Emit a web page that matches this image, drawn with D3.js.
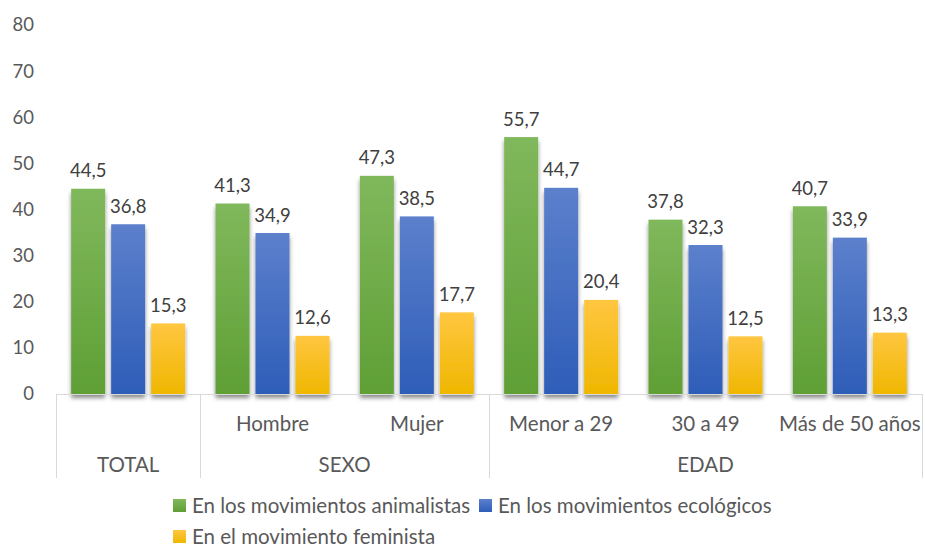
<!DOCTYPE html>
<html>
<head>
<meta charset="utf-8">
<script src="https://cdn.jsdelivr.net/npm/d3@7"></script>
<style>
  html, body { margin: 0; padding: 0; background: #fff; }
  svg { display: block; font-family: Lato, "Open Sans", sans-serif; }
</style>
</head>
<body>
<svg id="chart" width="925" height="550"></svg>
<script>
// Categories (inner label and outer group)
const categories = ["", "Hombre", "Mujer", "Menor a 29", "30 a 49", "Más de 50 años"];
const groups = [
  { name: "TOTAL", from: 0, to: 0 },
  { name: "SEXO", from: 1, to: 2 },
  { name: "EDAD", from: 3, to: 5 }
];
const seriesNames = ["En los movimientos animalistas", "En los movimientos ecológicos", "En el movimiento feminista"];
const animalistas = [44.5, 41.3, 47.3, 55.7, 37.8, 40.7];
const ecologicos  = [36.8, 34.9, 38.5, 44.7, 32.3, 33.9];
const feminista   = [15.3, 12.6, 17.7, 20.4, 12.5, 13.3];
const yTicks = [0, 10, 20, 30, 40, 50, 60, 70, 80];

const seriesValues = [animalistas, ecologicos, feminista];
const colors = [
  { top: "#80b85c", bottom: "#5f9f35" },
  { top: "#5c80cc", bottom: "#2e5db8" },
  { top: "#ffc641", bottom: "#efb700" }
];

const svg = d3.select("#chart");
const plotLeft = 56, plotRight = 922, plotTop = 25, plotBottom = 394, axisBottom = 478;
const numSize = "18.5px", textSize = "20.5px";

const y = d3.scaleLinear().domain([0, 80]).range([plotBottom, plotTop]);
const x0 = d3.scaleBand().domain(d3.range(categories.length)).range([plotLeft, plotRight]).padding(0);
const groupW = 3 * 34 + 2 * 6;
const pad = (x0.bandwidth() - groupW) / 2;
const x1 = d3.scaleBand().domain(d3.range(3)).range([pad, pad + groupW]).paddingInner(0.15).paddingOuter(0);

const defs = svg.append("defs");
colors.forEach((c, i) => {
  const g = defs.append("linearGradient").attr("id", "grad" + i)
    .attr("x1", 0).attr("y1", 0).attr("x2", 0).attr("y2", 1);
  g.append("stop").attr("offset", "0%").attr("stop-color", c.top);
  g.append("stop").attr("offset", "100%").attr("stop-color", c.bottom);
});
const f = defs.append("filter").attr("id", "shadow")
  .attr("x", "-30%").attr("y", "-10%").attr("width", "160%").attr("height", "130%");
f.append("feDropShadow").attr("dx", 0).attr("dy", 4).attr("stdDeviation", 2)
  .attr("flood-color", "#000").attr("flood-opacity", 0.45);

// Y axis labels
const yAxis = d3.axisLeft(y).tickValues(yTicks).tickSize(0).tickPadding(0);
const ya = svg.append("g").attr("transform", "translate(34,0)").call(yAxis);
ya.select(".domain").remove();
ya.selectAll("text").attr("fill", "#595959").style("font-size", numSize)
  .style("font-family", "Lato, 'Open Sans', sans-serif");

// Bars
const catG = svg.append("g").selectAll("g").data(categories).join("g")
  .attr("transform", (d, i) => `translate(${x0(i)},0)`);
seriesValues.forEach((vals, s) => {
  catG.append("rect")
    .attr("x", x1(s))
    .attr("y", (d, i) => y(vals[i]))
    .attr("width", x1.bandwidth())
    .attr("height", (d, i) => y(0) - y(vals[i]))
    .attr("fill", `url(#grad${s})`)
    .attr("filter", "url(#shadow)");
  catG.append("text")
    .attr("x", x1(s) + x1.bandwidth() / 2)
    .attr("y", (d, i) => y(vals[i]) - 11.5)
    .attr("text-anchor", "middle")
    .attr("fill", "#404040")
    .style("font-size", numSize)
    .text((d, i) => vals[i].toFixed(1).replace(".", ","));
});

// Category axis
const axisColor = "#d9d9d9";
svg.append("line").attr("x1", plotLeft).attr("x2", plotRight).attr("y1", plotBottom + 0.5).attr("y2", plotBottom + 0.5)
  .attr("stroke", axisColor).attr("stroke-width", 1);
const dividers = [0].concat(groups.map(g => g.to + 1));
dividers.forEach(i => {
  const xx = Math.round(i < categories.length ? x0(i) : plotRight) + 0.5;
  svg.append("line").attr("x1", xx).attr("x2", xx).attr("y1", plotBottom).attr("y2", axisBottom)
    .attr("stroke", axisColor).attr("stroke-width", 1);
});
svg.append("g").selectAll("text").data(categories).join("text")
  .attr("x", (d, i) => x0(i) + x0.bandwidth() / 2)
  .attr("y", 431)
  .attr("text-anchor", "middle").attr("fill", "#595959").style("font-size", textSize)
  .text(d => d);
svg.append("g").selectAll("text").data(groups).join("text")
  .attr("x", g => (x0(g.from) + x0(g.to) + x0.bandwidth()) / 2)
  .attr("y", 472)
  .attr("text-anchor", "middle").attr("fill", "#595959").style("font-size", textSize)
  .text(g => g.name);

// Legend
const legendItems = [
  { x: 173, y: 499 }, { x: 479, y: 499 }, { x: 173, y: 530 }
];
legendItems.forEach((p, i) => {
  svg.append("rect").attr("x", p.x).attr("y", p.y).attr("width", 13).attr("height", 13)
    .attr("fill", `url(#grad${i})`);
  svg.append("text").attr("x", p.x + 19).attr("y", p.y + 14)
    .attr("fill", "#595959").style("font-size", textSize).text(seriesNames[i]);
});
</script>
</body>
</html>
